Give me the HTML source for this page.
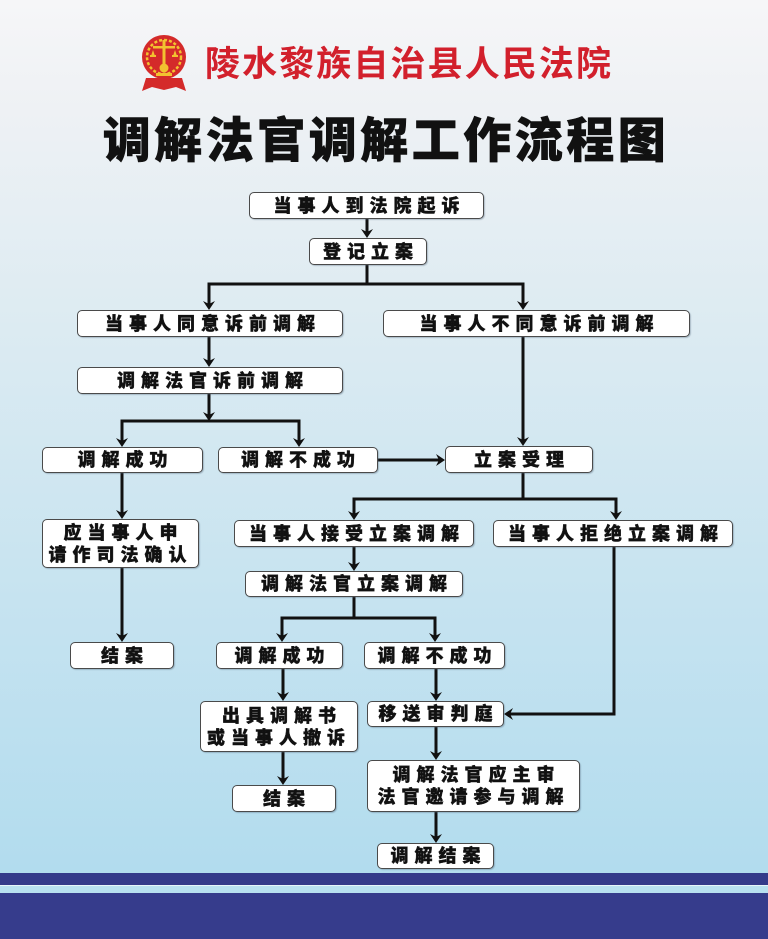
<!DOCTYPE html>
<html><head><meta charset="utf-8">
<style>
html,body{margin:0;padding:0;}
body{width:768px;height:939px;position:relative;overflow:hidden;
background:linear-gradient(to bottom,#f6f6f8 0px,#eef1f4 110px,#dcebf2 330px,#c6e3f0 600px,#b2dcee 873px);
font-family:"Liberation Sans","Noto Sans CJK SC",sans-serif;}
.b{position:absolute;box-sizing:border-box;background:#fff;border:1.5px solid #4a4a4a;border-radius:5px;
display:flex;align-items:center;justify-content:center;text-align:center;
font-family:"Liberation Sans","Noto Sans CJK SC",sans-serif;font-weight:900;font-size:18px;letter-spacing:6px;text-indent:6px;color:#111;line-height:22px;
-webkit-text-stroke:0.4px #111;
box-shadow:1px 1px 1px rgba(80,100,120,0.35);}
.t1{position:absolute;left:205px;top:40px;white-space:nowrap;
color:#d2202c;font-size:35px;font-weight:700;letter-spacing:2.1px;line-height:50px;
font-family:"Liberation Sans","Noto Sans CJK SC",sans-serif;}
.t2{position:absolute;left:0;width:768px;top:112px;text-align:center;box-sizing:border-box;padding-left:4px;
color:#111;font-size:48px;font-weight:900;letter-spacing:3.5px;line-height:60px;-webkit-text-stroke:0.6px #111;
font-family:"Liberation Sans","Noto Sans CJK SC",sans-serif;}
svg{position:absolute;left:0;top:0;}
</style></head><body>

<div class="t1">陵水黎族自治县人民法院</div>
<div class="t2">调解法官调解工作流程图</div>

<svg width="768" height="939" viewBox="0 0 768 939">
  <path d="M146 78 L142 91 L152 87 L164 90 L176 87 L186 91 L182 78 Z" fill="#d42a2a"/>
  <circle cx="164" cy="57" r="22" fill="#d42a2a"/>
  <circle cx="164" cy="57" r="17" fill="none" stroke="#f2c230" stroke-width="2.5" stroke-dasharray="3 2"/>
  <rect x="162.5" y="40" width="3" height="26" fill="#f2c230"/>
  <rect x="153" y="46" width="22" height="2.5" fill="#f2c230"/>
  <path d="M151 56 L155 56 L153 50 Z M173 56 L177 56 L175 50 Z" fill="#f2c230"/>
  <rect x="150" y="55" width="6" height="2" fill="#f2c230"/>
  <rect x="172" y="55" width="6" height="2" fill="#f2c230"/>
  <circle cx="164" cy="68" r="4.5" fill="#f2c230"/>
  <rect x="156" y="73" width="16" height="3" fill="#f2c230"/>

  <rect x="0" y="873" width="768" height="12" fill="#343a8a"/>
  <rect x="0" y="885" width="768" height="8" fill="#b8e0f0"/>
  <rect x="0" y="885" width="768" height="1" fill="#e6f4fa"/>
  <rect x="0" y="893" width="768" height="46" fill="#363c8c"/>

  <g stroke="#111" stroke-width="3" fill="none" stroke-linecap="square">
    <line x1="367" y1="219" x2="367" y2="234"/>
    <polyline points="367,265 367,284"/>
    <line x1="209" y1="284" x2="523" y2="284"/>
    <line x1="209" y1="284" x2="209" y2="306"/>
    <line x1="523" y1="284" x2="523" y2="306"/>
    <line x1="209" y1="337" x2="209" y2="363"/>
    <line x1="209" y1="394" x2="209" y2="417"/>
    <line x1="122" y1="421" x2="299" y2="421"/>
    <line x1="122" y1="421" x2="122" y2="443"/>
    <line x1="299" y1="421" x2="299" y2="443"/>
    <line x1="523" y1="337" x2="523" y2="442"/>
    <line x1="378" y1="460" x2="441" y2="460"/>
    <line x1="523" y1="473" x2="523" y2="499"/>
    <line x1="354" y1="499" x2="616" y2="499"/>
    <line x1="354" y1="499" x2="354" y2="516"/>
    <line x1="616" y1="499" x2="616" y2="516"/>
    <line x1="122" y1="473" x2="122" y2="515"/>
    <line x1="122" y1="568" x2="122" y2="638"/>
    <line x1="354" y1="547" x2="354" y2="567"/>
    <line x1="354" y1="597" x2="354" y2="618"/>
    <line x1="282" y1="618" x2="435" y2="618"/>
    <line x1="282" y1="618" x2="282" y2="638"/>
    <line x1="435" y1="618" x2="435" y2="638"/>
    <line x1="283" y1="669" x2="283" y2="697"/>
    <line x1="283" y1="752" x2="283" y2="781"/>
    <line x1="436" y1="669" x2="436" y2="697"/>
    <line x1="436" y1="727" x2="436" y2="756"/>
    <line x1="436" y1="812" x2="436" y2="839"/>
    <polyline points="614,547 614,714 508,714"/>
  </g>
  <g fill="#111">
    <path d="M361 229 L367 238 L373 229 L367 232 Z"/>
    <path d="M203 301 L209 310 L215 301 L209 304 Z"/>
    <path d="M517 301 L523 310 L529 301 L523 304 Z"/>
    <path d="M203 358 L209 367 L215 358 L209 361 Z"/>
    <path d="M203 412 L209 421 L215 412 L209 415 Z"/>
    <path d="M116 438 L122 447 L128 438 L122 441 Z"/>
    <path d="M293 438 L299 447 L305 438 L299 441 Z"/>
    <path d="M517 437 L523 446 L529 437 L523 440 Z"/>
    <path d="M348 511 L354 520 L360 511 L354 514 Z"/>
    <path d="M610 511 L616 520 L622 511 L616 514 Z"/>
    <path d="M116 510 L122 519 L128 510 L122 513 Z"/>
    <path d="M116 633 L122 642 L128 633 L122 636 Z"/>
    <path d="M348 562 L354 571 L360 562 L354 565 Z"/>
    <path d="M276 633 L282 642 L288 633 L282 636 Z"/>
    <path d="M429 633 L435 642 L441 633 L435 636 Z"/>
    <path d="M277 692 L283 701 L289 692 L283 695 Z"/>
    <path d="M277 776 L283 785 L289 776 L283 779 Z"/>
    <path d="M430 692 L436 701 L442 692 L436 695 Z"/>
    <path d="M430 751 L436 760 L442 751 L436 754 Z"/>
    <path d="M430 834 L436 843 L442 834 L436 837 Z"/>
    <path d="M436 454 L445 460 L436 466 L439 460 Z"/>
    <path d="M513 708 L504 714 L513 720 L510 714 Z"/>
  </g>
</svg>

<div class="b" style="left:249px;top:192px;width:235px;height:27px;">当事人到法院起诉</div>
<div class="b" style="left:309px;top:238px;width:118px;height:27px;">登记立案</div>
<div class="b" style="left:77px;top:310px;width:266px;height:27px;">当事人同意诉前调解</div>
<div class="b" style="left:383px;top:310px;width:307px;height:27px;">当事人不同意诉前调解</div>
<div class="b" style="left:77px;top:367px;width:266px;height:27px;">调解法官诉前调解</div>
<div class="b" style="left:42px;top:447px;width:161px;height:26px;">调解成功</div>
<div class="b" style="left:218px;top:447px;width:160px;height:26px;">调解不成功</div>
<div class="b" style="left:445px;top:446px;width:148px;height:27px;">立案受理</div>
<div class="b" style="left:42px;top:519px;width:157px;height:49px;">应当事人申<br>请作司法确认</div>
<div class="b" style="left:234px;top:520px;width:240px;height:27px;">当事人接受立案调解</div>
<div class="b" style="left:493px;top:520px;width:240px;height:27px;">当事人拒绝立案调解</div>
<div class="b" style="left:245px;top:571px;width:218px;height:26px;">调解法官立案调解</div>
<div class="b" style="left:70px;top:642px;width:104px;height:27px;">结案</div>
<div class="b" style="left:216px;top:642px;width:127px;height:27px;">调解成功</div>
<div class="b" style="left:364px;top:642px;width:141px;height:27px;">调解不成功</div>
<div class="b" style="left:200px;top:701px;width:158px;height:51px;">出具调解书<br>或当事人撤诉</div>
<div class="b" style="left:367px;top:701px;width:137px;height:26px;">移送审判庭</div>
<div class="b" style="left:367px;top:760px;width:213px;height:52px;">调解法官应主审<br>法官邀请参与调解</div>
<div class="b" style="left:232px;top:785px;width:104px;height:27px;">结案</div>
<div class="b" style="left:377px;top:843px;width:117px;height:26px;">调解结案</div>

</body></html>
